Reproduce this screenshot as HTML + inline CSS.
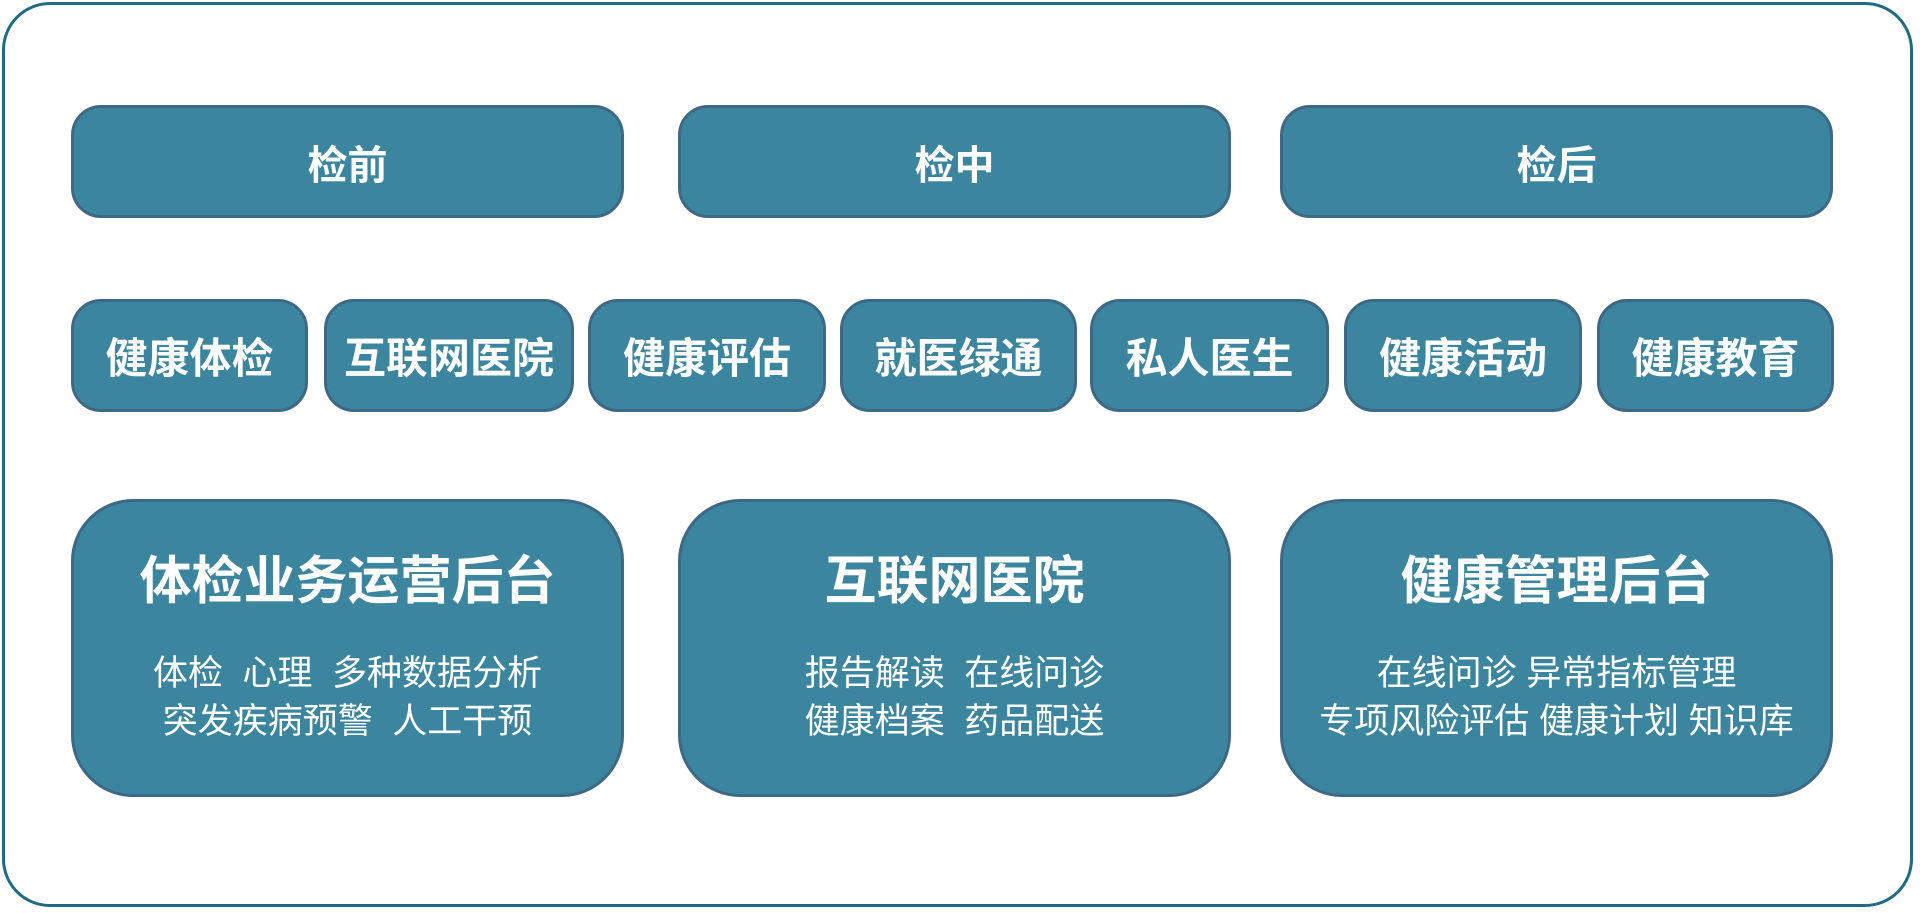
<!DOCTYPE html>
<html><head><meta charset="utf-8"><style>
body{margin:0;width:1920px;height:913px;background:#fff;position:relative;overflow:hidden;font-family:"Liberation Sans","Noto Sans CJK SC",sans-serif;}
.o{position:absolute;left:2px;top:2px;width:1911px;height:905px;border:3px solid #1e6b82;border-radius:48px;box-sizing:border-box;}
.b{position:absolute;background:#3b869e;border:3px solid #3d6886;box-sizing:border-box;color:#fff;display:flex;align-items:center;justify-content:center;font-weight:bold;white-space:nowrap;}
.t{top:105px;height:113px;border-radius:30px;font-size:40px;}
.m{top:299px;height:113px;border-radius:30px;font-size:42px;}
.g{top:499px;height:298px;border-radius:62px;flex-direction:column;justify-content:flex-start;}
.g h{display:block;font-size:52px;margin-top:48px;line-height:64px;}
.g p{margin:0;font-weight:normal;font-size:35px;line-height:48px;}
</style></head><body>
<div class="o"></div>
<div class="b t" style="left:71px;width:553px">检前</div>
<div class="b t" style="left:678px;width:553px">检中</div>
<div class="b t" style="left:1280px;width:553px">检后</div>
<div class="b m" style="left:71px;width:237px">健康体检</div>
<div class="b m" style="left:324px;width:250px">互联网医院</div>
<div class="b m" style="left:588px;width:238px">健康评估</div>
<div class="b m" style="left:840px;width:237px">就医绿通</div>
<div class="b m" style="left:1090px;width:239px">私人医生</div>
<div class="b m" style="left:1344px;width:238px">健康活动</div>
<div class="b m" style="left:1597px;width:237px">健康教育</div>
<div class="b g" style="left:71px;width:553px"><h>体检业务运营后台</h><p style="margin-top:36px">体检&nbsp;&nbsp;心理&nbsp;&nbsp;多种数据分析</p><p>突发疾病预警&nbsp;&nbsp;人工干预</p></div>
<div class="b g" style="left:678px;width:553px"><h>互联网医院</h><p style="margin-top:36px">报告解读&nbsp;&nbsp;在线问诊</p><p>健康档案&nbsp;&nbsp;药品配送</p></div>
<div class="b g" style="left:1280px;width:553px"><h>健康管理后台</h><p style="margin-top:36px">在线问诊 异常指标管理</p><p>专项风险评估 健康计划 知识库</p></div>
</body></html>
